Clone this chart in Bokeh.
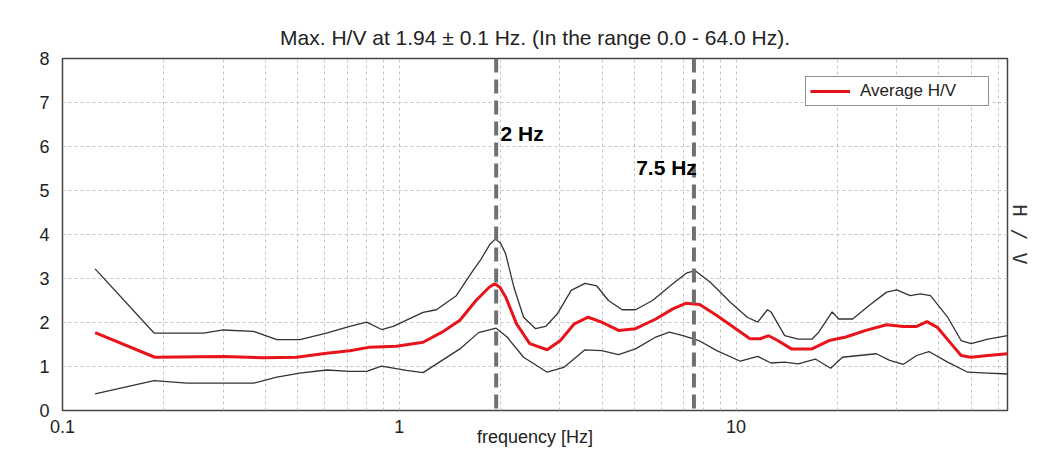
from bokeh.plotting import figure
from bokeh.models import FixedTicker, LinearAxis, Span, Label
from bokeh.embed import file_html
from bokeh.resources import INLINE

# ---------------- data ----------------
freq_upper = [0.125, 0.187, 0.262, 0.30, 0.369, 0.433, 0.507, 0.608, 0.713, 0.80, 0.886, 0.959,
              1.177, 1.289, 1.477, 1.655, 1.74, 1.86, 1.93, 2.0, 2.07, 2.19, 2.34, 2.54, 2.72, 2.95,
              3.24, 3.56, 3.86, 4.18, 4.59, 5.03, 5.65, 6.49, 7.12, 7.55, 8.37, 9.62, 10.8,
              11.6, 12.4, 12.7, 13.95, 15.3, 16.8, 17.6, 19.3, 20.2, 22.2, 24.9, 28.0, 30.0,
              32.9, 35.3, 37.8, 42.5, 46.6, 49.9, 56.0, 64.0]
hv_upper = [3.22, 1.76, 1.76, 1.83, 1.80, 1.61, 1.61, 1.76, 1.91, 2.01, 1.84, 1.91,
            2.23, 2.29, 2.61, 3.18, 3.41, 3.78, 3.90, 3.80, 3.56, 2.80, 2.12, 1.86, 1.91, 2.20,
            2.73, 2.89, 2.83, 2.50, 2.29, 2.29, 2.50, 2.88, 3.12, 3.18, 2.92, 2.46, 2.12,
            2.01, 2.29, 2.24, 1.70, 1.62, 1.62, 1.78, 2.24, 2.08, 2.08, 2.39, 2.69, 2.74,
            2.61, 2.65, 2.61, 2.12, 1.59, 1.52, 1.62, 1.70]

freq_avg = [0.125, 0.188, 0.30, 0.395, 0.496, 0.608, 0.713, 0.818, 0.98, 1.177, 1.34, 1.514,
            1.69, 1.85, 1.92, 1.99, 2.07, 2.23, 2.44, 2.75, 3.01, 3.31, 3.64, 3.99, 4.48, 5.03, 5.78,
            6.49, 7.12, 7.8, 8.77, 9.84, 11.0, 11.8, 12.5, 13.3, 14.6, 16.8, 18.9, 21.2,
            24.3, 28.0, 31.4, 34.4, 36.9, 39.6, 43.5, 46.6, 49.9, 56.0, 64.0]
hv_avg = [1.77, 1.21, 1.23, 1.20, 1.21, 1.30, 1.36, 1.44, 1.46, 1.55, 1.78, 2.05,
          2.50, 2.80, 2.88, 2.80, 2.58, 1.97, 1.52, 1.38, 1.59, 1.97, 2.12, 2.01, 1.82, 1.86, 2.08,
          2.31, 2.44, 2.41, 2.16, 1.89, 1.63, 1.63, 1.70, 1.59, 1.40, 1.40, 1.59, 1.67,
          1.82, 1.95, 1.91, 1.91, 2.02, 1.89, 1.52, 1.25, 1.21, 1.25, 1.29]

freq_lower = [0.125, 0.187, 0.234, 0.369, 0.433, 0.507, 0.608, 0.713, 0.80, 0.886, 1.05, 1.177,
              1.34, 1.514, 1.72, 1.94, 2.09, 2.34, 2.75, 3.08, 3.56, 3.99, 4.48, 5.03, 5.78,
              6.34, 6.96, 7.8, 8.77, 10.3, 11.6, 12.7, 13.95, 15.3, 17.2, 19.1, 20.7, 23.2,
              26.1, 28.6, 31.4, 34.4, 37.4, 42.5, 48.8, 56.0, 64.0]
hv_lower = [0.38, 0.68, 0.62, 0.62, 0.76, 0.85, 0.92, 0.89, 0.89, 1.01, 0.91, 0.86,
            1.14, 1.40, 1.77, 1.87, 1.67, 1.21, 0.87, 0.98, 1.38, 1.36, 1.27, 1.40, 1.67,
            1.78, 1.70, 1.58, 1.36, 1.12, 1.23, 1.08, 1.10, 1.06, 1.17, 0.96, 1.21, 1.25,
            1.29, 1.14, 1.05, 1.25, 1.34, 1.10, 0.87, 0.85, 0.83]

peak_freqs = [1.94, 7.5]
peak_labels = ["2 Hz", "7.5 Hz"]

x_major_ticks = [0.1, 1, 10]
x_tick_labels = ["0.1", "1", "10"]
x_grid_ticks = [0.2, 0.3, 0.4, 0.5, 0.6, 0.7, 0.8, 0.9, 1,
                2, 3, 4, 5, 6, 7, 8, 9, 10, 20, 30, 40, 50, 60]
y_ticks = [0, 1, 2, 3, 4, 5, 6, 7, 8]

title_text = "Max. H/V at 1.94 \u00b1 0.1 Hz. (In the range 0.0 - 64.0 Hz)."

# ---------------- figure ----------------
FONT = "Liberation Sans"
TXT = "#222222"

p = figure(width=1054, height=453, x_axis_type="log", x_range=(0.1, 64), y_range=(0, 8),
           output_backend="svg", toolbar_location=None, title=title_text,
           min_border_left=62, min_border_right=47, min_border_top=58, min_border_bottom=43)
p.background_fill_color = "white"
p.border_fill_color = "white"
p.outline_line_color = "#444444"
p.outline_line_width = 1.5

p.title.align = "center"
p.title.text_font = FONT
p.title.text_font_style = "normal"
p.title.text_font_size = "21px"
p.title.text_color = TXT
p.title.standoff = 20

# axes
xa = p.xaxis[0]
xa.ticker = FixedTicker(ticks=x_major_ticks)
xa.major_label_overrides = {t: l for t, l in zip(x_major_ticks, x_tick_labels)}
xa.axis_label = "frequency [Hz]"
ya = p.yaxis[0]
ya.ticker = FixedTicker(ticks=y_ticks)
for ax in (xa, ya):
    ax.axis_line_color = None
    ax.major_tick_line_color = None
    ax.minor_tick_line_color = None
    ax.major_label_text_font = FONT
    ax.major_label_text_font_size = "18px"
    ax.major_label_text_color = TXT
    ax.axis_label_text_font = FONT
    ax.axis_label_text_font_size = "18px"
    ax.axis_label_text_font_style = "normal"
    ax.axis_label_text_color = TXT
xa.major_label_standoff = 3
xa.axis_label_standoff = -9
ya.major_label_standoff = 7

ra = LinearAxis(axis_label="H\u2009/\u2009V", ticker=FixedTicker(ticks=[]))
ra.axis_line_color = None
ra.major_tick_line_color = None
ra.minor_tick_line_color = None
ra.axis_label_text_font = "DejaVu Sans Mono"
ra.axis_label_text_font_size = "20px"
ra.axis_label_text_font_style = "normal"
ra.axis_label_text_color = "#333333"
ra.axis_label_standoff = 0
p.add_layout(ra, "right")

# grids
p.xgrid.ticker = FixedTicker(ticks=x_grid_ticks)
for g in (p.xgrid[0], p.ygrid[0]):
    g.grid_line_color = "#c4c4c4"
    g.grid_line_dash = "3 3"
    g.grid_line_width = 1

# curves
p.line(freq_upper, hv_upper, line_color="#333333", line_width=1.3)
p.line(freq_lower, hv_lower, line_color="#333333", line_width=1.3)
p.line(freq_avg, hv_avg, line_color="#e8141b", line_width=3, legend_label="Average H/V")

# peak markers
for f in peak_freqs:
    p.add_layout(Span(location=f, dimension="height", line_color="#707070",
                      line_width=4, line_dash="14 7"))

label_pos = [(peak_freqs[0] * 1.03, 6.3, "left"), (peak_freqs[1] * 1.02, 5.52, "right")]
for (lx, ly, al), txt in zip(label_pos, peak_labels):
    p.add_layout(Label(x=lx, y=ly, text=txt, text_align=al, text_baseline="middle",
                       text_font=FONT, text_font_style="bold", text_font_size="21px",
                       text_color="black"))

# legend
lg = p.legend[0]
lg.location = "top_right"
lg.margin = 18
lg.padding = 4
lg.spacing = 0
lg.glyph_width = 40
lg.glyph_height = 16
lg.label_height = 16
lg.label_standoff = 10
lg.label_width = 124
lg.label_text_font = FONT
lg.label_text_font_size = "17px"
lg.label_text_color = TXT
lg.border_line_color = "#222222"
lg.border_line_width = 1
lg.background_fill_alpha = 1

open("out.html", "w").write(file_html(p, INLINE))
